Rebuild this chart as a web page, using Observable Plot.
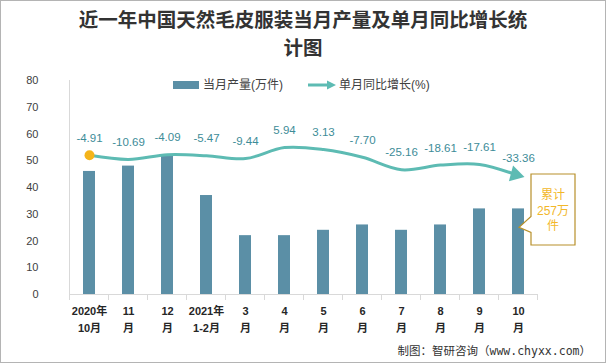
<!DOCTYPE html>
<html><head><meta charset="utf-8">
<script src="https://cdn.jsdelivr.net/npm/d3@7"></script>
<script src="https://cdn.jsdelivr.net/npm/@observablehq/plot@0.6"></script>
<style>
body{margin:0;background:#fff;}
#wrap{position:relative;width:606px;height:363px;overflow:hidden;}
</style></head><body><div id="wrap"></div>
<script>
const categories = ["2020年\n10月","11\n月","12\n月","2021年\n1-2月","3\n月","4\n月","5\n月","6\n月","7\n月","8\n月","9\n月","10\n月"];
const production = [46,48,52,37,22,22,24,26,24,26,32,32];
const growth = [-4.91,-10.69,-4.09,-5.47,-9.44,5.94,3.13,-7.70,-25.16,-18.61,-17.61,-33.36];
const yTicks = [0,10,20,30,40,50,60,70,80];
const yDomain = [0,80];
const secondaryDomain = [-200,100];
const cumulativeNote = ["累计","257万","件"];
const titleLines = ["近一年中国天然毛皮服装当月产量及单月同比增长统","计图"];
const legendLabels = ["当月产量(万件)","单月同比增长(%)"];
const sourceText = "制图：智研咨询（www.chyxx.com）";

const FONT = '"Liberation Sans","Noto Sans CJK SC",sans-serif';
const BAR = "#5b8fa6", LINE = "#5dbbb3", LABEL = "#3d8c98", GOLD = "#f2b72a";

const toPrimary = g => (g - secondaryDomain[0]) / (secondaryDomain[1] - secondaryDomain[0]) * (yDomain[1] - yDomain[0]) + yDomain[0];
const data = categories.map((c, i) => ({c, p: production[i], g: growth[i], gy: toPrimary(growth[i]), label: growth[i].toFixed(2)}));

const plot = Plot.plot({
  width: 606, height: 363,
  marginTop: 80, marginBottom: 69, marginLeft: 50, marginRight: 49,
  style: {fontFamily: FONT, fontSize: "11px", color: "#404040", background: "transparent", overflow: "visible"},
  x: {domain: categories, padding: 0.69, label: null},
  y: {domain: yDomain, label: null},
  marks: [
    Plot.barY(data, {x: "c", y: "p", fill: BAR}),
    Plot.axisY({ticks: yTicks, tickSize: 0, tickPadding: 12, fontSize: 11, fill: "#404040"}),
    Plot.axisX({tickSize: 0, tickPadding: 9, fontWeight: "bold", lineHeight: 1.5, fontSize: 11, fill: "#262626"}),
    Plot.line(data, {x: "c", y: "gy", curve: "catmull-rom", stroke: LINE, strokeWidth: 3}),
    Plot.dot(data.slice(0, 1), {x: "c", y: "gy", r: 5, fill: "#f4b41a"}),
    Plot.dot(data.slice(-1), {x: "c", y: "gy", symbol: "triangle", r: 6, fill: LINE, rotate: 105, dx: -3, dy: -1}),
    Plot.text(data, {x: "c", y: "gy", text: "label", dy: -17, fill: LABEL, fontSize: 11.5})
  ]
});
document.getElementById("wrap").appendChild(plot);

const svg = d3.select(plot);
const xs = plot.scale("x"), ys = plot.scale("y");
const y0 = ys.apply(yDomain[0]), yTop = ys.apply(yDomain[1]);
const centers = categories.map(c => xs.apply(c) + xs.bandwidth / 2);
const bounds = centers.map(c => c - xs.step / 2).concat([centers[centers.length - 1] + xs.step / 2]);
const gAx = svg.append("g").attr("stroke", "#d9d9d9").attr("stroke-width", 1);
gAx.append("line").attr("x1", bounds[0]).attr("x2", bounds[0]).attr("y1", yTop).attr("y2", y0);
gAx.append("line").attr("x1", bounds[0]).attr("x2", bounds[bounds.length - 1]).attr("y1", y0 + 0.5).attr("y2", y0 + 0.5);
bounds.forEach(b => gAx.append("line").attr("x1", b).attr("x2", b).attr("y1", y0).attr("y2", y0 + 6));

// border
svg.append("rect").attr("x", 0.5).attr("y", 0.5).attr("width", 605).attr("height", 362)
  .attr("fill", "none").attr("stroke", "#b4b4b4");

// title
const tg = svg.append("g").attr("font-family", '"Noto Sans CJK SC",sans-serif').attr("font-weight", "bold")
  .attr("font-size", 19.5).attr("fill", "#333").attr("text-anchor", "middle");
titleLines.forEach((t, i) => tg.append("text").attr("x", 303).attr("y", 20 + i * 28).attr("dy", "0.35em").text(t));

// legend
const lg = svg.append("g").attr("font-family", FONT).attr("font-size", 12).attr("fill", "#404040").attr("text-anchor", "start");
lg.append("rect").attr("x", 173).attr("y", 81).attr("width", 26).attr("height", 8).attr("fill", BAR);
lg.append("text").attr("x", 203).attr("y", 85).attr("dy", "0.35em").text(legendLabels[0]);
lg.append("line").attr("x1", 308).attr("x2", 329).attr("y1", 85).attr("y2", 85).attr("stroke", LINE).attr("stroke-width", 3);
lg.append("path").attr("d", "M327,80.5L336,85L327,89.5Z").attr("fill", LINE);
lg.append("text").attr("x", 339).attr("y", 85).attr("dy", "0.35em").text(legendLabels[1]);

// callout for cumulative value, anchored to last bar
const lastC = centers[centers.length - 1];
const tipX = lastC + 1, tipY = ys.apply(production[production.length - 1]) + 19;
const bx0 = tipX + 12, bx1 = bx0 + 44, by0 = 174, by1 = 245;
svg.append("path")
  .attr("d", `M${bx0},${by0}H${bx1}V${by1}H${bx0}V${tipY + 5}L${tipX},${tipY}L${bx0},${tipY - 11}Z`)
  .attr("fill", "#fff").attr("stroke", "#b8902a").attr("stroke-width", 1.2);
const cg = svg.append("g").attr("font-family", FONT).attr("font-size", 12).attr("fill", GOLD).attr("text-anchor", "middle");
cumulativeNote.forEach((t, i) => cg.append("text").attr("x", (bx0 + bx1) / 2).attr("y", 195 + i * 15.5).attr("dy", "0.35em").text(t));

// source
svg.append("text").attr("x", 591).attr("y", 351).attr("dy", "0.35em").attr("text-anchor", "end")
  .attr("font-family", '"DejaVu Sans Mono","Noto Sans CJK SC",monospace').attr("font-size", 11.5).attr("fill", "#333")
  .text(sourceText);
</script>
</body></html>
